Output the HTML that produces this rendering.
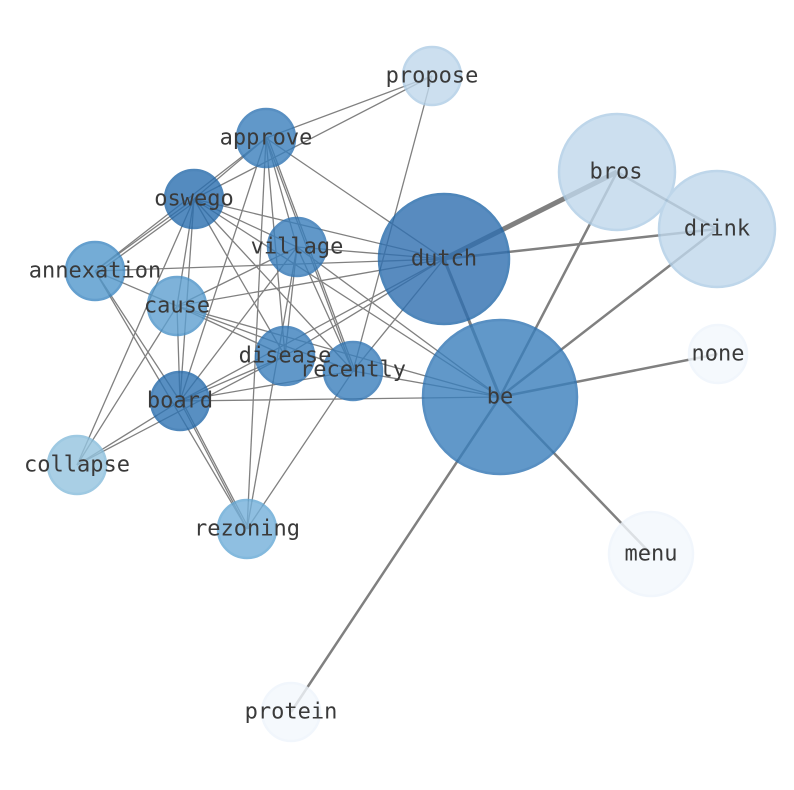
<!DOCTYPE html>
<html><head><meta charset="utf-8"><style>html,body{margin:0;padding:0;background:#fff}svg{display:block}text{font-family:"DejaVu Sans Mono","Liberation Mono",monospace;font-size:22px;fill:#3a3a3a;text-anchor:middle;dominant-baseline:central}</style></head><body>
<svg width="794" height="790" viewBox="0 0 794 790" xmlns="http://www.w3.org/2000/svg">
<g stroke="#808080" stroke-width="1.3" fill="none">
<line x1="266" y1="138" x2="432" y2="76"/><line x1="194" y1="199" x2="432" y2="76"/>
<line x1="266" y1="138" x2="95" y2="271"/><line x1="194" y1="199" x2="95" y2="271"/><line x1="196" y1="201" x2="97" y2="273"/>
<line x1="266" y1="138" x2="194" y2="199"/><line x1="266" y1="138" x2="444" y2="259"/>
<line x1="266" y1="138" x2="285" y2="356"/><line x1="266" y1="138" x2="353" y2="371"/><line x1="268" y1="138" x2="355" y2="371"/>
<line x1="266" y1="138" x2="247" y2="529"/><line x1="266" y1="138" x2="180" y2="401"/><line x1="266" y1="138" x2="297" y2="247"/>
<line x1="194" y1="199" x2="297" y2="247"/><line x1="194" y1="199" x2="444" y2="259"/><line x1="194" y1="199" x2="500" y2="397"/>
<line x1="194" y1="199" x2="285" y2="356"/><line x1="194" y1="199" x2="353" y2="371"/><line x1="194" y1="199" x2="180" y2="401"/>
<line x1="194" y1="199" x2="177" y2="306"/><line x1="194" y1="199" x2="77" y2="465"/>
<line x1="95" y1="271" x2="444" y2="259"/><line x1="95" y1="271" x2="177" y2="306"/><line x1="95" y1="271" x2="180" y2="401"/><line x1="95" y1="271" x2="247" y2="529"/>
<line x1="177" y1="306" x2="297" y2="247"/><line x1="177" y1="306" x2="444" y2="259"/><line x1="177" y1="306" x2="285" y2="356"/>
<line x1="177" y1="306" x2="353" y2="371"/><line x1="177" y1="306" x2="500" y2="397"/><line x1="177" y1="306" x2="180" y2="401"/><line x1="177" y1="306" x2="77" y2="465"/>
<line x1="297" y1="247" x2="285" y2="356"/><line x1="297" y1="247" x2="353" y2="371"/><line x1="297" y1="247" x2="500" y2="397"/>
<line x1="297" y1="247" x2="180" y2="401"/><line x1="297" y1="247" x2="247" y2="529"/><line x1="297" y1="247" x2="444" y2="259"/>
<line x1="285" y1="356" x2="444" y2="259"/><line x1="285" y1="356" x2="180" y2="401"/><line x1="285" y1="356" x2="77" y2="465"/>
<line x1="180" y1="401" x2="444" y2="259"/><line x1="180" y1="401" x2="353" y2="371"/><line x1="180" y1="401" x2="500" y2="397"/>
<line x1="180" y1="401" x2="77" y2="465"/><line x1="180" y1="401" x2="247" y2="529"/><line x1="182" y1="401" x2="249" y2="529"/>
<line x1="353" y1="371" x2="247" y2="529"/><line x1="353" y1="371" x2="432" y2="76"/><line x1="353" y1="371" x2="444" y2="259"/><line x1="353" y1="371" x2="500" y2="397"/>
<line x1="444" y1="259" x2="500" y2="397" stroke-width="3"/>
<line x1="444" y1="259" x2="617" y2="172" stroke-width="5"/>
<line x1="444" y1="259" x2="717" y2="229" stroke-width="2.5"/>
<line x1="500" y1="397" x2="617" y2="172" stroke-width="2.5"/>
<line x1="500" y1="397" x2="717" y2="229" stroke-width="2.5"/>
<line x1="500" y1="397" x2="718" y2="354" stroke-width="2.5"/>
<line x1="500" y1="397" x2="651" y2="554" stroke-width="2.5"/>
<line x1="500" y1="397" x2="291" y2="712" stroke-width="2.5"/>
<line x1="617" y1="172" x2="717" y2="229" stroke-width="2.5"/>
</g>
<g opacity="0.8" stroke-width="2.5">
<circle cx="432" cy="76" r="29" fill="#c0d8ec" stroke="#aecde6"/>
<circle cx="266" cy="138" r="29" fill="#3a7fbc" stroke="#2f74b3"/>
<circle cx="617" cy="172" r="58" fill="#c0d8ec" stroke="#aecde6"/>
<circle cx="194" cy="199" r="29" fill="#2a6fb0" stroke="#2368a9"/>
<circle cx="717" cy="229" r="58" fill="#c0d8ec" stroke="#aecde6"/>
<circle cx="297" cy="247" r="29" fill="#3a7fbc" stroke="#2f74b3"/>
<circle cx="444" cy="259" r="65" fill="#2f6fb0" stroke="#2368a9"/>
<circle cx="95" cy="271" r="29" fill="#5298cc" stroke="#3e88c2"/>
<circle cx="177" cy="306" r="29" fill="#5ea0d0" stroke="#4a92c8"/>
<circle cx="285" cy="356" r="29" fill="#3a7fbc" stroke="#2f74b3"/>
<circle cx="353" cy="371" r="29" fill="#3a7fbc" stroke="#2f74b3"/>
<circle cx="718" cy="354" r="29" fill="#f3f8fd" stroke="#eef5fc"/>
<circle cx="500" cy="397" r="77" fill="#3a7fbc" stroke="#2f74b3"/>
<circle cx="180" cy="401" r="29" fill="#2f74b3" stroke="#2368a9"/>
<circle cx="77" cy="465" r="29" fill="#94c4df" stroke="#86bcdb"/>
<circle cx="247" cy="529" r="29" fill="#74b0da" stroke="#65a8d5"/>
<circle cx="651" cy="554" r="42" fill="#f3f8fd" stroke="#eef5fc"/>
<circle cx="291" cy="712" r="29" fill="#f3f8fd" stroke="#eef5fc"/>
</g>
<text x="432" y="76">propose</text>
<text x="266" y="138">approve</text>
<text x="616" y="172">bros</text>
<text x="194" y="199">oswego</text>
<text x="717" y="229">drink</text>
<text x="297" y="247">village</text>
<text x="444" y="259">dutch</text>
<text x="95" y="271">annexation</text>
<text x="177" y="306">cause</text>
<text x="285" y="356">disease</text>
<text x="353" y="370">recently</text>
<text x="718" y="354">none</text>
<text x="500" y="397">be</text>
<text x="180" y="401">board</text>
<text x="77" y="465">collapse</text>
<text x="247" y="529">rezoning</text>
<text x="651" y="554">menu</text>
<text x="291" y="712">protein</text>
</svg>
</body></html>
